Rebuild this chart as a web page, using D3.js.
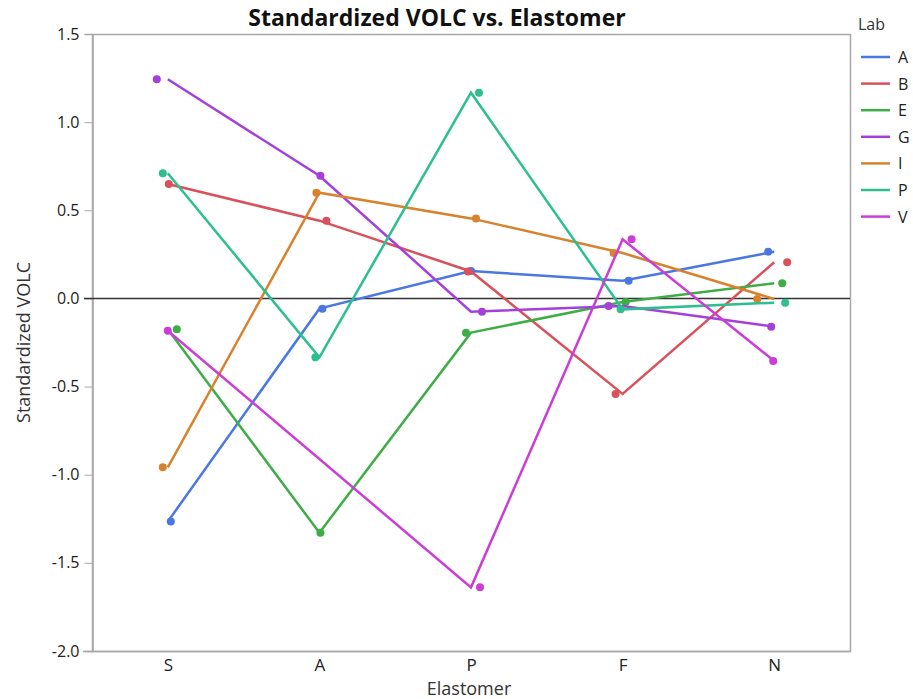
<!DOCTYPE html>
<html>
<head>
<meta charset="utf-8">
<script src="https://cdn.jsdelivr.net/npm/d3@7"></script>
<style>
  body { margin: 0; background: #fff; }
  text { font-family: "Open Sans", "DejaVu Sans", sans-serif; }
</style>
</head>
<body>
<svg id="chart"></svg>
<script>
var elastomers = ["S", "A", "P", "F", "N"];
var labs = ["A", "B", "E", "G", "I", "P", "V"];
var yTicks = [-2.0, -1.5, -1.0, -0.5, 0.0, 0.5, 1.0, 1.5];

// standardized VOLC per lab, in elastomer order (null = no result)
var labA = [-1.266, -0.058, 0.155, 0.100, 0.265];
var labB = [0.649, 0.441, 0.153, -0.542, 0.205];
var labE = [-0.175, -1.329, -0.194, -0.020, 0.086];
var labG = [1.243, 0.696, -0.075, -0.043, -0.160];
var labI = [-0.958, 0.600, 0.454, 0.258, -0.003];
var labP = [0.710, -0.334, 1.167, -0.062, -0.024];
var labV = [-0.183, null, -1.639, 0.335, -0.355];
var values = [labA, labB, labE, labG, labI, labP, labV];

// horizontal jitter of the dots, px (lines go through the category centre)
var jitter = [
  [3, 3, 0, 6, -6],
  [1, 7, -3, -7, 13],
  [9, 1, -5, 3, 8],
  [-11, 1, 11, -14, -3],
  [-5, -3, 5, -9, -17],
  [-5, -4, 8, -2, 11],
  [0, 0, 9, 9, -1]
];

var colors = ["#4a78e0", "#d9515b", "#3dae45", "#a43fdb", "#d9822d", "#2dbf8f", "#cc3dd8"];

var width = 913, height = 699;
var mLeft = 92, mRight = 850, mTop = 34, mBottom = 651;

var svg = d3.select("#chart").attr("width", width).attr("height", height);

var x = d3.scalePoint().domain(elastomers).range([mLeft, mRight]).padding(0.5);
var y = d3.scaleLinear().domain([-2, 1.5]).range([mBottom, mTop]);
var color = d3.scaleOrdinal().domain(labs).range(colors);

// frame
svg.append("rect")
  .attr("x", mLeft + 0.5).attr("y", mTop + 0.5)
  .attr("width", mRight - mLeft).attr("height", mBottom - mTop)
  .attr("fill", "none").attr("stroke", "#a8a8a8").attr("stroke-width", 1.5);

// y axis (plain hyphen for negatives, as in the original)
var yAxis = svg.append("g")
  .attr("transform", "translate(" + (mLeft + 0.5) + ",0)")
  .call(d3.axisLeft(y).tickValues(yTicks)
    .tickFormat(function (d) { return d3.format(".1f")(d).replace("\u2212", "-"); })
    .tickSize(8).tickPadding(5));
yAxis.select(".domain").attr("stroke", "#a8a8a8").attr("stroke-width", 1.5);
yAxis.selectAll(".tick line").attr("stroke", "#a8a8a8");
yAxis.selectAll("text").attr("font-size", 16).attr("fill", "#222")
  .style("font-family", "'Open Sans', sans-serif");

// x axis
var xAxis = svg.append("g")
  .attr("transform", "translate(0," + (mBottom + 0.5) + ")")
  .call(d3.axisBottom(x).tickSize(0).tickPadding(7));
xAxis.select(".domain").attr("stroke", "#a8a8a8").attr("stroke-width", 1.5)
  .attr("d", "M" + (mLeft - 9) + ",0H" + mRight);
xAxis.selectAll("text").attr("font-size", 17).attr("fill", "#222")
  .style("font-family", "'Open Sans', sans-serif");

// zero reference line
svg.append("line")
  .attr("x1", mLeft - 8).attr("x2", mRight)
  .attr("y1", y(0)).attr("y2", y(0))
  .attr("stroke", "#333").attr("stroke-width", 1.5);

var line = d3.line()
  .x(function (d) { return x(d.cat); })
  .y(function (d) { return y(d.v); });

labs.forEach(function (lab, i) {
  var pts = elastomers.map(function (c, j) {
    return { cat: c, v: values[i][j], dx: jitter[i][j] };
  }).filter(function (d) { return d.v != null; });

  var g = svg.append("g").attr("class", "lab");
  g.append("path")
    .datum(pts)
    .attr("d", line)
    .attr("fill", "none")
    .attr("stroke", color(lab))
    .attr("stroke-width", 2.5)
    .attr("stroke-linejoin", "miter");
  g.selectAll("circle")
    .data(pts)
    .enter()
    .append("circle")
    .attr("cx", function (d) { return x(d.cat) + d.dx; })
    .attr("cy", function (d) { return y(d.v); })
    .attr("r", 4)
    .attr("fill", color(lab));
});

// titles
svg.append("text")
  .attr("x", 437).attr("y", 26)
  .attr("text-anchor", "middle")
  .attr("font-size", 23).attr("font-weight", "bold").attr("fill", "#111")
  .text("Standardized VOLC vs. Elastomer");

svg.append("text")
  .attr("x", 469).attr("y", 695)
  .attr("text-anchor", "middle")
  .attr("font-size", 18).attr("fill", "#333")
  .text("Elastomer");

svg.append("text")
  .attr("transform", "translate(30," + (mTop + mBottom) / 2 + ") rotate(-90)")
  .attr("text-anchor", "middle")
  .attr("font-size", 18).attr("fill", "#333")
  .text("Standardized VOLC");

// legend
var legend = svg.append("g").attr("transform", "translate(858,0)");
legend.append("text")
  .attr("x", 0).attr("y", 30)
  .attr("font-size", 16).attr("fill", "#333")
  .text("Lab");
var item = legend.selectAll(".item")
  .data(labs)
  .enter()
  .append("g")
  .attr("class", "item")
  .attr("transform", function (d, i) { return "translate(0," + (57 + i * 26.6) + ")"; });
item.append("line")
  .attr("x1", 3).attr("x2", 32)
  .attr("stroke", function (d) { return color(d); })
  .attr("stroke-width", 2.5);
item.append("text")
  .attr("x", 40).attr("y", 6)
  .attr("font-size", 16).attr("fill", "#222")
  .text(function (d) { return d; });
</script>
</body>
</html>
